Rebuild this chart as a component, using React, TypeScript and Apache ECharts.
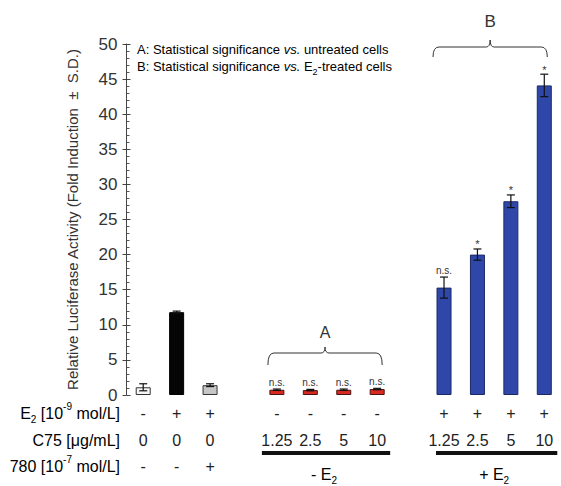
import React, { useEffect, useRef } from "react";
import * as echarts from "echarts";

const FONT = "'Liberation Sans', Arial, Helvetica, sans-serif";

const categories = ["Ctrl", "E2", "E2+ICI", "gapA", "C1.25", "C2.5", "C5", "C10", "gapB", "E2C1.25", "E2C2.5", "E2C5", "E2C10"];
const barValues: (number | null)[] = [1.1, 11.8, 1.4, null, 0.75, 0.7, 0.75, 0.85, null, 15.3, 20.0, 27.6, 44.1];
const errValues: (number | null)[] = [0.5, 0.15, 0.2, null, 0.1, 0.1, 0.1, 0.1, null, 1.5, 0.8, 0.9, 1.6];
const sigLabels = ["", "", "", "", "n.s.", "n.s.", "n.s.", "n.s.", "", "n.s.", "*", "*", "*"];
const barFill = ["#f5f5f5", "#050505", "#c6c6c6", "", "#d9281f", "#d9281f", "#d9281f", "#d9281f", "", "#2e47a8", "#2e47a8", "#2e47a8", "#2e47a8"];
const barBorder = ["#333", "#000", "#333", "", "#4a1414", "#4a1414", "#4a1414", "#4a1414", "", "#1b2a66", "#1b2a66", "#1b2a66", "#1b2a66"];
const e2Row = ["-", "+", "+", "", "-", "-", "-", "-", "", "+", "+", "+", "+"];
const c75Row = ["0", "0", "0", "", "1.25", "2.5", "5", "10", "", "1.25", "2.5", "5", "10"];
const iciRow = ["-", "-", "+", "", "", "", "", "", "", "", "", "", ""];
const yMin = 0;
const yMax = 50;
const yStep = 5;

const rich = {
  n: { fontSize: 16, fontFamily: FONT, color: "#222", lineHeight: 18 },
  sub: { fontSize: 10, fontFamily: FONT, color: "#222", lineHeight: 12, verticalAlign: "bottom" as const, padding: [0, 0, -2, 0] },
  sup: { fontSize: 10, fontFamily: FONT, color: "#222", lineHeight: 12, verticalAlign: "top" as const, padding: [-3, 0, 0, 0] },
};
const legRich = {
  n: { fontSize: 13, fontFamily: FONT, color: "#222", lineHeight: 15 },
  i: { fontSize: 13, fontFamily: FONT, color: "#222", lineHeight: 15, fontStyle: "italic" as const },
  sub: { fontSize: 9, fontFamily: FONT, color: "#222", lineHeight: 10, verticalAlign: "bottom" as const, padding: [0, 0, -3, 0] },
};

function rowAxis(row: string[], margin: number) {
  return {
    type: "category",
    data: categories,
    position: "bottom",
    axisLine: { show: false },
    axisTick: { show: false },
    splitLine: { show: false },
    axisLabel: {
      interval: 0,
      margin,
      fontSize: 16,
      fontFamily: FONT,
      color: "#222",
      formatter: (_v: string, i: number) => row[i],
    },
  };
}

export default function App() {
  const ref = useRef<HTMLDivElement>(null);
  useEffect(() => {
    const chart = echarts.init(ref.current!, null, { renderer: "svg" });
    const barData = barValues.map((v, i) =>
      v == null
        ? "-"
        : { value: v, itemStyle: { color: barFill[i], borderColor: barBorder[i], borderWidth: 1 } }
    );
    const errIdx: number[] = [];
    const errData: number[][] = [];
    barValues.forEach((v, i) => {
      if (v != null && errValues[i] != null) {
        errIdx.push(i);
        errData.push([i, v, errValues[i] as number]);
      }
    });
    chart.setOption({
      animation: false,
      grid: { left: 126.5, right: 0, top: 44, bottom: 91, containLabel: false },
      xAxis: [rowAxis(e2Row, 10), rowAxis(c75Row, 37), rowAxis(iciRow, 63)],
      yAxis: [
        {
          type: "value",
          min: yMin,
          max: yMax,
          interval: yStep,
          axisLine: { show: true, lineStyle: { color: "#444", width: 1 } },
          axisTick: { show: true, inside: false, length: 4, lineStyle: { color: "#444" } },
          axisLabel: { fontSize: 17, color: "#333", margin: 9, fontFamily: FONT },
          splitLine: { show: false },
          name: "Relative Luciferase Activity (Fold Induction  \u00b1  S.D.)",
          nameLocation: "middle",
          nameGap: 47,
          nameTextStyle: { fontSize: 15, color: "#333", fontFamily: FONT },
        },
        {
          type: "value",
          min: yMin,
          max: yMax,
          interval: yStep,
          position: "left",
          offset: 0,
          axisLine: { show: false },
          axisTick: { show: true, inside: true, length: 4, lineStyle: { color: "#444" } },
          minorTick: { show: true, splitNumber: 5, length: 3, lineStyle: { color: "#555" } },
          axisLabel: { show: false },
          splitLine: { show: false },
        },
      ],
      series: [
        { type: "bar", xAxisIndex: 0, yAxisIndex: 0, barWidth: 15, data: barData, z: 2 },
        {
          type: "custom",
          xAxisIndex: 0,
          yAxisIndex: 0,
          z: 5,
          data: errData,
          renderItem: (params: any, api: any) => {
            const x = api.value(0);
            const v = api.value(1);
            const e = api.value(2);
            const top = api.coord([x, v + e]);
            const bot = api.coord([x, v - e]);
            const hw = 4;
            const label = sigLabels[errIdx[params.dataIndex]];
            const ls = { stroke: "#111", lineWidth: 1.2 };
            const children: any[] = [
              { type: "line", shape: { x1: top[0], y1: top[1], x2: bot[0], y2: bot[1] }, style: ls },
              { type: "line", shape: { x1: top[0] - hw, y1: top[1], x2: top[0] + hw, y2: top[1] }, style: ls },
              { type: "line", shape: { x1: bot[0] - hw, y1: bot[1], x2: bot[0] + hw, y2: bot[1] }, style: ls },
            ];
            if (label) {
              const star = label === "*";
              children.push({
                type: "text",
                style: {
                  text: label,
                  x: top[0],
                  y: star ? top[1] + 1 : top[1] - 2,
                  align: "center",
                  verticalAlign: "bottom",
                  fontSize: star ? 11 : 10,
                  fontFamily: FONT,
                  fill: "#333",
                },
              });
            }
            return { type: "group", children };
          },
        },
      ],
    });

    const cx = (i: number) => chart.convertToPixel({ xAxisIndex: 0 }, categories[i]) as number;
    const brace = (x1: number, x2: number, xm: number, yb: number, yh: number, yp: number) => {
      const st = { stroke: "#333", lineWidth: 1, fill: "none" };
      const r = 6;
      return [
        { type: "bezierCurve", shape: { x1, y1: yb, x2: x1 + r, y2: yh, cpx1: x1, cpy1: yh }, style: st },
        { type: "line", shape: { x1: x1 + r, y1: yh, x2: xm - 4, y2: yh }, style: st },
        { type: "bezierCurve", shape: { x1: xm - 4, y1: yh, x2: xm, y2: yp, cpx1: xm, cpy1: yh }, style: st },
        { type: "bezierCurve", shape: { x1: xm + 4, y1: yh, x2: xm, y2: yp, cpx1: xm, cpy1: yh }, style: st },
        { type: "line", shape: { x1: xm + 4, y1: yh, x2: x2 - r, y2: yh }, style: st },
        { type: "bezierCurve", shape: { x1: x2 - r, y1: yh, x2, y2: yb, cpx1: x2, cpy1: yh }, style: st },
      ];
    };
    const aL = cx(4) - 9, aR = cx(7) + 5, aM = (aL + aR) / 2;
    const bL = cx(9) - 11, bR = cx(12) + 3, bM = (bL + bR) / 2;
    const rM = (cx(4) + cx(7)) / 2;
    const uM = (cx(9) + cx(12)) / 2;
    const graphic: any[] = [
      ...brace(aL, aR, aM, 365, 353, 347),
      ...brace(bL, bR, bM, 57, 47, 40),
      { type: "text", style: { text: "A", x: aM, y: 332, align: "center", verticalAlign: "middle", fontSize: 16, fontFamily: FONT, fill: "#333" } },
      { type: "text", style: { text: "B", x: bM, y: 21, align: "center", verticalAlign: "middle", fontSize: 17, fontFamily: FONT, fill: "#333" } },
      {
        type: "text",
        style: { text: "{n|A: Statistical significance }{i|vs.}{n| untreated cells}", x: 137, y: 49, verticalAlign: "middle", rich: legRich },
      },
      {
        type: "text",
        style: { text: "{n|B: Statistical significance }{i|vs.}{n| E}{sub|2}{n|-treated cells}", x: 137, y: 66, verticalAlign: "middle", rich: legRich },
      },
      { type: "text", style: { text: "{n|E}{sub|2}{n| [10}{sup|-9}{n| mol/L]}", x: 120, y: 413, align: "right", verticalAlign: "middle", rich } },
      { type: "text", style: { text: "{n|C75 [\u03bcg/mL]}", x: 120, y: 440, align: "right", verticalAlign: "middle", rich } },
      { type: "text", style: { text: "{n|780 [10}{sup|-7}{n| mol/L]}", x: 120, y: 466, align: "right", verticalAlign: "middle", rich } },
      { type: "rect", shape: { x: cx(4) - 15, y: 451, width: cx(7) - cx(4) + 28, height: 4 }, style: { fill: "#111" } },
      { type: "rect", shape: { x: cx(9) - 8, y: 451, width: cx(12) - cx(9) + 21, height: 4 }, style: { fill: "#111" } },
      { type: "text", style: { text: "{n|- E}{sub|2}", x: rM - 3, y: 474, align: "center", verticalAlign: "middle", rich } },
      { type: "text", style: { text: "{n|+ E}{sub|2}", x: uM, y: 474, align: "center", verticalAlign: "middle", rich } },
    ];
    chart.setOption({ graphic });
    return () => chart.dispose();
  }, []);
  return <div ref={ref} style={{ position: "absolute", left: 0, top: 0, width: 561, height: 486 }} />;
}
